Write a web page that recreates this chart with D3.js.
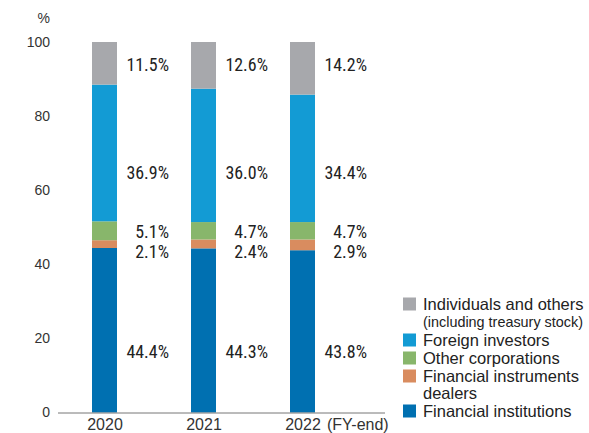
<!DOCTYPE html>
<html><head><meta charset="utf-8">
<script src="https://cdn.jsdelivr.net/npm/d3@7"></script>
<style>
body{margin:0;background:#fff;}
svg{display:block;}
</style></head><body>
<svg id="chart" width="589" height="433"></svg>
<script>
const years = ["2020", "2021", "2022"];
const seriesNames = ["Financial institutions", "Financial instruments dealers", "Other corporations", "Foreign investors", "Individuals and others"];
const financialInstitutions = [44.4, 44.3, 43.8];
const financialDealers = [2.1, 2.4, 2.9];
const otherCorporations = [5.1, 4.7, 4.7];
const foreignInvestors = [36.9, 36.0, 34.4];
const individuals = [11.5, 12.6, 14.2];
const yTicks = [0, 20, 40, 60, 80, 100];
const colors = ["#0070b1", "#d98c5f", "#88b66b", "#139bd4", "#a7a8ac"];
const legendLabels = [
  ["Individuals and others", "(including treasury stock)"],
  ["Foreign investors"],
  ["Other corporations"],
  ["Financial instruments", "dealers"],
  ["Financial institutions"]
];

const seriesValues = [financialInstitutions, financialDealers, otherCorporations, foreignInvestors, individuals];
const data = years.map((y, i) => {
  const o = {year: y};
  seriesNames.forEach((s, k) => o[s] = seriesValues[k][i]);
  return o;
});

const svg = d3.select("#chart");
const condensed = "'Liberation Sans Narrow', 'Roboto Condensed', 'DejaVu Sans Condensed', sans-serif";
const font = "'Liberation Sans', Arial, sans-serif";

const x = d3.scalePoint().domain(years).range([104.5, 302.5]);
const y = d3.scaleLinear().domain([0, 100]).range([412.5, 42]);
const barW = 25;

const stack = d3.stack().keys(seriesNames)(data);

const g = svg.append("g");
stack.forEach((layer, k) => {
  g.selectAll(null).data(layer).enter().append("rect")
    .attr("x", d => x(d.data.year) - barW / 2)
    .attr("width", barW)
    .attr("y", d => y(d[1]))
    .attr("height", d => y(d[0]) - y(d[1]))
    .attr("fill", colors[k]);
});

// baseline
svg.append("line").attr("x1", 58).attr("x2", 385).attr("y1", y(0) + 0.5).attr("y2", y(0) + 0.5)
  .attr("stroke", "#777").attr("stroke-width", 1);

// y axis
const yAxis = d3.axisLeft(y).tickValues(yTicks).tickSize(0).tickPadding(0);
const ya = svg.append("g").attr("transform", "translate(50,0)").call(yAxis);
ya.select(".domain").remove();
ya.selectAll("text").attr("font-family", font).attr("font-size", 14).attr("fill", "#333");
svg.append("text").attr("x", 50).attr("y", 23).attr("text-anchor", "end")
  .attr("font-family", font).attr("font-size", 14).attr("fill", "#333").text("%");

// x axis
const xAxis = d3.axisBottom(x).tickSize(0).tickPadding(0);
const xa = svg.append("g").attr("transform", "translate(0,418)").call(xAxis);
xa.select(".domain").remove();
xa.selectAll("text").attr("font-family", font).attr("font-size", 16).attr("fill", "#333").attr("dy", "0.75em");
svg.append("text").attr("x", 327).attr("y", 430).attr("font-family", font).attr("font-size", 16)
  .attr("fill", "#333").text("(FY-end)");

// value labels at fixed rows
const labelRowY = [352, 252, 232, 173, 65];
stack.forEach((layer, k) => {
  svg.selectAll(null).data(layer).enter().append("text")
    .attr("transform", d => `translate(${x(d.data.year) + 64.5},${labelRowY[k]}) scale(1.12,1.13)`)
    .attr("dy", "0.35em")
    .attr("text-anchor", "end")
    .attr("font-family", condensed)
    .attr("font-size", 16)
    .attr("fill", "#222")
    .text(d => (d[1] - d[0]).toFixed(1) + "%");
});

// legend
const legendOrder = [4, 3, 2, 1, 0];
const legendY = [304, 340, 358, 376, 411];
legendOrder.forEach((k, i) => {
  const cy = legendY[i];
  svg.append("rect").attr("x", 403).attr("y", cy - 6.5).attr("width", 13).attr("height", 13).attr("fill", colors[k]);
  const lines = legendLabels[i];
  lines.forEach((t, j) => {
    let fs = 16.5;
    let yy = cy + j * 17.5;
    if (t.startsWith("(")) { fs = 14.4; yy = cy + 18; }
    svg.append("text").attr("x", 423).attr("y", yy).attr("dy", "0.35em")
      .attr("font-family", font).attr("font-size", fs).attr("fill", "#222").text(t);
  });
});
</script>
</body></html>
